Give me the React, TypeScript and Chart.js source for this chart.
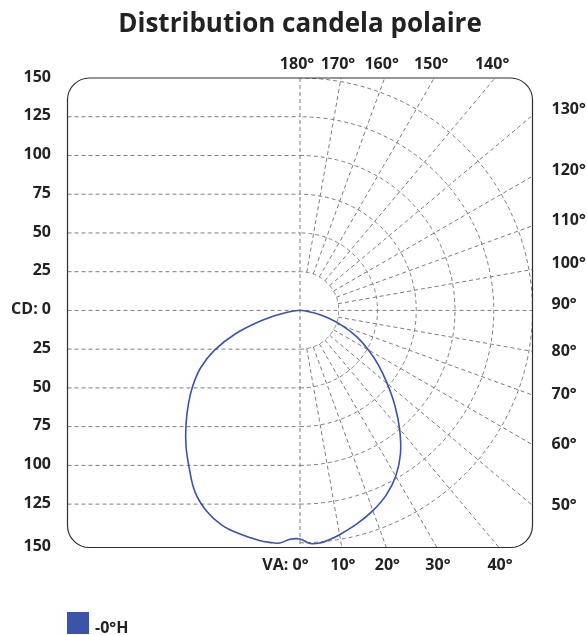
import React, { useEffect, useRef } from "react";
import { Chart, registerables } from "chart.js";

Chart.register(...registerables);

// ---------- data ----------
const TITLE = "Distribution candela polaire";
const SERIES_LABEL = "-0°H";
const SERIES_COLOR = "#3a54a9";

// candela grid rings (cd)
const CD_TICKS = [25, 50, 75, 100, 125, 150];
// angle labels around the frame (degrees, 0 = down, 180 = up)
const TOP_ANGLES = [180, 170, 160, 150, 140];
const SIDE_ANGLES = [130, 120, 110, 100, 90, 80, 70, 60, 50];
const BOTTOM_ANGLES = [0, 10, 20, 30, 40];
const GRID_ANGLES = [10, 20, 30, 40, 50, 60, 70, 80, 100, 110, 120, 130, 140, 150, 160, 170];

// vertical angles of the measurement (degrees)
const ANGLES = [0, 2.5, 5, 7.5, 10, 15, 20, 25, 30, 35, 40, 45, 50, 55, 60, 65, 70, 75, 80, 85, 90];
// candela, right half (C0)
const CD_RIGHT = [147.5, 150.6, 150.6, 149, 147, 142.5, 137.5, 131.5, 123.5, 113, 100, 86.5, 73.5, 62, 51, 40.5, 29.5, 18.5, 9, 3, 0];
// candela, left half (C180)
const CD_LEFT = [147.5, 147.8, 150.7, 151, 150.8, 149.4, 147.4, 142.8, 135.4, 124.5, 114.4, 104, 94, 84.3, 74, 61, 44.5, 26, 11.5, 4, 0];

const X_MIN = -150;
const X_MAX = 150;
const Y_MIN = -153;
const Y_MAX = 150;

const rad = (d: number) => (d * Math.PI) / 180;

function buildPoints() {
  const pts: { x: number; y: number }[] = [];
  for (let i = ANGLES.length - 1; i >= 0; i--) {
    const t = rad(ANGLES[i]);
    pts.push({ x: -CD_LEFT[i] * Math.sin(t), y: -CD_LEFT[i] * Math.cos(t) });
  }
  for (let i = 1; i < ANGLES.length; i++) {
    const t = rad(ANGLES[i]);
    pts.push({ x: CD_RIGHT[i] * Math.sin(t), y: -CD_RIGHT[i] * Math.cos(t) });
  }
  return pts;
}

function roundRectPath(ctx: CanvasRenderingContext2D, x: number, y: number, w: number, h: number, r: number) {
  ctx.beginPath();
  ctx.moveTo(x + r, y);
  ctx.lineTo(x + w - r, y);
  ctx.arcTo(x + w, y, x + w, y + r, r);
  ctx.lineTo(x + w, y + h - r);
  ctx.arcTo(x + w, y + h, x + w - r, y + h, r);
  ctx.lineTo(x + r, y + h);
  ctx.arcTo(x, y + h, x, y + h - r, r);
  ctx.lineTo(x, y + r);
  ctx.arcTo(x, y, x + r, y, r);
  ctx.closePath();
}

const RADIUS = 22;

const gridPlugin = {
  id: "polarGrid",
  beforeDatasetsDraw(chart: any) {
    const { ctx, chartArea: a, scales } = chart;
    const px = (v: number) => scales.x.getPixelForValue(v);
    const py = (v: number) => scales.y.getPixelForValue(v);
    const cx = px(0);
    const cy = py(0);
    ctx.save();
    roundRectPath(ctx, a.left, a.top, a.right - a.left, a.bottom - a.top, RADIUS);
    ctx.clip();
    ctx.strokeStyle = "#7c7c7c";
    ctx.lineWidth = 1;
    ctx.setLineDash([4, 3]);
    // left horizontals (outer 150 levels coincide with the frame)
    ctx.beginPath();
    for (const v of CD_TICKS) {
      if (v === 150) continue;
      for (const s of [1, -1]) {
        const y = py(s * v);
        ctx.moveTo(a.left, y);
        ctx.lineTo(cx, y);
      }
    }
    ctx.moveTo(a.left, cy);
    ctx.lineTo(a.right, cy);
    ctx.moveTo(cx, a.top);
    ctx.lineTo(cx, a.bottom);
    ctx.stroke();
    // right half rings
    for (const r of CD_TICKS) {
      ctx.beginPath();
      for (let d = 0; d <= 180; d += 1) {
        const t = rad(d);
        const X = px(r * Math.sin(t));
        const Y = py(-r * Math.cos(t));
        if (d === 0) ctx.moveTo(X, Y);
        else ctx.lineTo(X, Y);
      }
      ctx.stroke();
    }
    // radials
    for (const g of GRID_ANGLES) {
      const t = rad(g);
      ctx.beginPath();
      ctx.moveTo(px(CD_TICKS[0] * Math.sin(t)), py(-CD_TICKS[0] * Math.cos(t)));
      ctx.lineTo(px(400 * Math.sin(t)), py(-400 * Math.cos(t)));
      ctx.stroke();
    }
    ctx.restore();
    // frame
    ctx.save();
    roundRectPath(ctx, a.left, a.top, a.right - a.left, a.bottom - a.top, RADIUS);
    ctx.strokeStyle = "#2e2e2e";
    ctx.lineWidth = 1.2;
    ctx.stroke();
    ctx.restore();
  },
  afterDraw(chart: any) {
    const { ctx, chartArea: a, scales } = chart;
    const px = (v: number) => scales.x.getPixelForValue(v);
    const py = (v: number) => scales.y.getPixelForValue(v);
    const cx = px(0);
    ctx.save();
    ctx.fillStyle = "#222";
    // title
    ctx.font = 'bold 26px "Open Sans"';
    ctx.textAlign = "center";
    ctx.textBaseline = "alphabetic";
    ctx.fillText(TITLE, cx, 32);

    ctx.font = 'bold 16px "Open Sans"';
    const cap = 5.7;
    // candela labels
    ctx.textAlign = "right";
    for (const v of CD_TICKS) {
      const yu = v === 150 ? a.top : py(v);
      const yd = v === 150 ? a.bottom : py(-v);
      ctx.fillText(String(v), 51, yu - 2 + cap);
      ctx.fillText(String(v), 51, yd - 2 + cap);
    }
    ctx.fillText("CD: 0", 51, py(0) - 2 + cap);

    // top angle labels
    ctx.textAlign = "center";
    for (const g of TOP_ANGLES) {
      const t = rad(g);
      const k = Y_MAX / -Math.cos(t);
      const x = px(k * Math.sin(t));
      ctx.fillText(g + "°", x - 3, 69);
    }
    // side labels
    ctx.textAlign = "left";
    for (const g of SIDE_ANGLES) {
      const t = rad(g);
      const k = X_MAX / Math.sin(t);
      const y = py(-k * Math.cos(t));
      const off = g >= 90 ? -7 : -1.5;
      ctx.fillText(g + "°", 551.5, y + off + cap);
    }
    // bottom labels
    for (const g of BOTTOM_ANGLES) {
      const t = rad(g);
      const k = -Y_MIN / Math.cos(t);
      const x = px(k * Math.sin(t));
      if (g === 0) {
        ctx.textAlign = "right";
        ctx.fillText("VA: 0°", x + 8.5, 570);
      } else {
        ctx.textAlign = "center";
        ctx.fillText(g + "°", x + 1, 570);
      }
    }
    // legend
    ctx.fillStyle = SERIES_COLOR;
    ctx.fillRect(67, 612, 22, 22);
    ctx.fillStyle = "#222";
    ctx.textAlign = "left";
    ctx.fillText(SERIES_LABEL, 95, 633);
    ctx.restore();
  },
};

export default function App() {
  const ref = useRef<HTMLCanvasElement | null>(null);
  useEffect(() => {
    if (!ref.current) return;
    const chart = new Chart(ref.current, {
      type: "scatter",
      data: {
        datasets: [
          {
            label: SERIES_LABEL,
            data: buildPoints(),
            showLine: true,
            borderColor: SERIES_COLOR,
            backgroundColor: SERIES_COLOR,
            borderWidth: 1.6,
            pointRadius: 0,
            tension: 0.4,
            fill: false,
          },
        ],
      },
      options: {
        responsive: false,
        animation: false,
        layout: { padding: { left: 67.5, right: 54.5, top: 78, bottom: 87.5 } },
        scales: {
          x: { type: "linear", min: X_MIN, max: X_MAX, display: false },
          y: { type: "linear", min: Y_MIN, max: Y_MAX, display: false },
        },
        plugins: {
          legend: { display: false },
          title: { display: false },
          tooltip: { enabled: false },
        },
      },
      plugins: [gridPlugin],
    });
    return () => chart.destroy();
  }, []);
  return (
    <div style={{ position: "absolute", left: 0, top: 0, width: 587, height: 635, background: "#fff" }}>
      <canvas ref={ref} width={587} height={635} style={{ display: "block" }} />
    </div>
  );
}
